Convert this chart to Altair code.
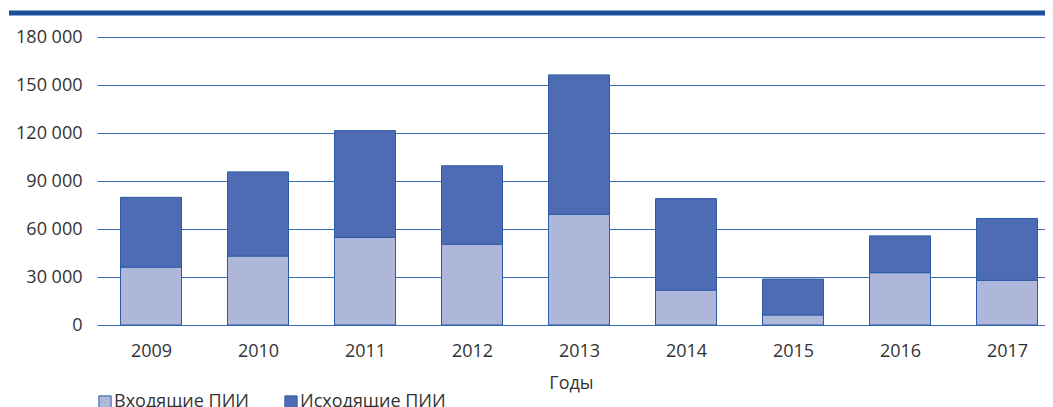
import altair as alt
import pandas as pd

years = [2009, 2010, 2011, 2012, 2013, 2014, 2015, 2016, 2017]
series = ["Входящие ПИИ", "Исходящие ПИИ"]
inbound = [36200, 43100, 54700, 50500, 69200, 21800, 6300, 32700, 27900]
outbound = [43600, 52600, 66800, 49000, 87100, 57200, 22400, 23000, 38700]
y_ticks = [0, 30000, 60000, 90000, 120000, 150000, 180000]

rows = []
for i, yr in enumerate(years):
    rows.append({"year": yr, "series": series[0], "value": inbound[i], "ord": 0})
    rows.append({"year": yr, "series": series[1], "value": outbound[i], "ord": 1})
df = pd.DataFrame(rows)

FONT = "Open Sans"
TXT = "#333333"

bars = alt.Chart(df).mark_bar(stroke="#2a5ca8", strokeWidth=1, size=61).encode(
    x=alt.X(
        "year:Q",
        scale=alt.Scale(domain=[2008.4953, 2017.3551], nice=False, zero=False, padding=0),
        axis=alt.Axis(
            title="Годы", values=years, format="d", ticks=False, domain=False, grid=False,
            labelFont=FONT, labelFontSize=18, labelColor=TXT, labelPadding=17,
            labelFlush=False, labelOverlap=False,
            titleFont=FONT, titleFontSize=18, titleColor=TXT, titleFontWeight="normal",
            titlePadding=14,
        ),
    ),
    y=alt.Y(
        "value:Q",
        stack="zero",
        scale=alt.Scale(domain=[0, 180000], nice=False),
        axis=alt.Axis(
            title=None, values=y_ticks, ticks=False, domain=False,
            grid=True, gridColor="#3a6cb5", gridWidth=1,
            labelExpr="replace(format(datum.value, ','), ',', ' ')",
            labelFont=FONT, labelFontSize=18, labelColor=TXT, labelPadding=15,
        ),
    ),
    color=alt.Color(
        "series:N",
        scale=alt.Scale(domain=series, range=["#aeb7da", "#4e6cb3"]),
        legend=alt.Legend(
            orient="none", legendX=-1, legendY=356, direction="horizontal",
            title=None, symbolType="square", symbolSize=150,
            symbolStrokeColor="#2a5ca8", symbolStrokeWidth=1,
            labelFont=FONT, labelFontSize=18, labelColor=TXT,
            columnPadding=32, labelOffset=0,
        ),
    ),
    order=alt.Order("ord:Q"),
)

top_line = alt.Chart(pd.DataFrame({"a": [0]})).mark_rule(
    color="#1b4f9b", strokeWidth=5
).encode(x=alt.value(-88), x2=alt.value(948), y=alt.value(-24))

chart = alt.layer(bars, top_line).properties(
    width=948,
    height=288,
    autosize=alt.AutoSizeParams(type="none"),
    padding={"left": 89, "top": 29, "right": 0, "bottom": 82},
).configure_view(stroke=None)

chart.save("out.html", embed_options={"renderer": "svg", "actions": False})
